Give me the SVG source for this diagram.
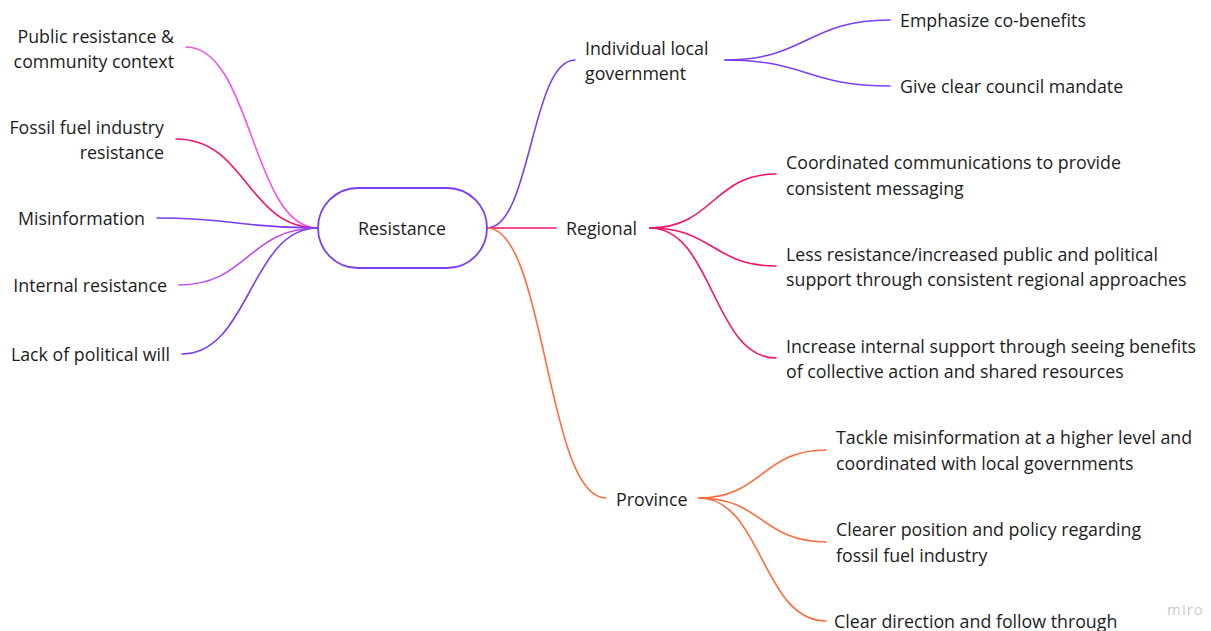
<svg xmlns="http://www.w3.org/2000/svg" width="1211" height="631" viewBox="0 0 1211 631">
  <style>
    text { font-family: "Open Sans", "Noto Sans", sans-serif; font-size: 17.8px; fill: #1c1c1e; }
    .r { text-anchor: end; }
    .c { text-anchor: middle; }
    .edge { fill: none; stroke-width: 1.6; stroke-linecap: round; }
    .purple { stroke: #7b3ef4; }
    .pink { stroke: #f554e8; }
    .crimson { stroke: #f3116d; }
    .violet { stroke: #bd4df6; }
    .orange { stroke: #ff6c3b; }
    .mark { font-size: 15px; fill: #c9c9d4; letter-spacing: 1px; }
  </style>
  <rect width="1211" height="631" fill="#ffffff"/>

  <g id="connectors">
    <!-- left branches into the root -->
    <path class="edge pink" d="M186,47 C252,47 252,228 318,228"/>
    <path class="edge crimson" d="M176,139 C247,139 247,228 318,228"/>
    <path class="edge purple" d="M157,218 C237,218 237,228 318,228"/>
    <path class="edge violet" d="M179,285 C248,285 248,228 318,228"/>
    <path class="edge purple" d="M182,354 C250,354 250,228 318,228"/>
    <!-- root to first level -->
    <path class="edge purple" d="M487,228 C531,228 531,60 575,60"/>
    <path class="edge crimson" d="M487,228 L556,228"/>
    <path class="edge orange" d="M487,228 C546,228 546,498 606,498"/>
    <!-- individual local government -->
    <path class="edge purple" d="M725,60 C807,60 807,20 890,20"/>
    <path class="edge purple" d="M725,60 C807,60 807,86 890,86"/>
    <!-- regional -->
    <path class="edge crimson" d="M650,228 C713,228 713,174 776,174"/>
    <path class="edge crimson" d="M650,228 C713,228 713,266 776,266"/>
    <path class="edge crimson" d="M650,228 C713,228 713,358 776,358"/>
    <!-- province -->
    <path class="edge orange" d="M699,498 C762,498 762,450 826,450"/>
    <path class="edge orange" d="M699,498 C762,498 762,542 826,542"/>
    <path class="edge orange" d="M699,498 C762,498 762,621 826,621"/>
  </g>

  <g id="root">
    <rect x="318" y="188" width="169" height="80" rx="40" ry="40" fill="#ffffff" stroke="#7b3ef4" stroke-width="1.8"/>
    <text class="c" x="402" y="235">Resistance</text>
  </g>

  <g id="public-resistance">
    <text class="r" x="174" y="43">Public resistance &amp;</text>
    <text class="r" x="174" y="68">community context</text>
  </g>
  <g id="fossil-fuel-resistance">
    <text class="r" x="164" y="134">Fossil fuel industry</text>
    <text class="r" x="164" y="159">resistance</text>
  </g>
  <g id="misinformation">
    <text class="r" x="145" y="225">Misinformation</text>
  </g>
  <g id="internal-resistance">
    <text class="r" x="167" y="292">Internal resistance</text>
  </g>
  <g id="lack-of-will">
    <text class="r" x="170" y="361">Lack of political will</text>
  </g>

  <g id="individual-local-government">
    <text x="585" y="55">Individual local</text>
    <text x="585" y="80">government</text>
  </g>
  <g id="co-benefits">
    <text x="900" y="27">Emphasize co-benefits</text>
  </g>
  <g id="council-mandate">
    <text x="900" y="93">Give clear council mandate</text>
  </g>

  <g id="regional">
    <text x="566" y="235">Regional</text>
  </g>
  <g id="coordinated-communications">
    <text x="786" y="169">Coordinated communications to provide</text>
    <text x="786" y="195">consistent messaging</text>
  </g>
  <g id="less-resistance">
    <text x="786" y="261">Less resistance/increased public and political</text>
    <text x="786" y="286">support through consistent regional approaches</text>
  </g>
  <g id="internal-support">
    <text x="786" y="353">Increase internal support through seeing benefits</text>
    <text x="786" y="378">of collective action and shared resources</text>
  </g>

  <g id="province">
    <text x="616" y="506">Province</text>
  </g>
  <g id="tackle-misinformation">
    <text x="836" y="444">Tackle misinformation at a higher level and</text>
    <text x="836" y="470">coordinated with local governments</text>
  </g>
  <g id="clearer-position">
    <text x="836" y="536">Clearer position and policy regarding</text>
    <text x="836" y="562">fossil fuel industry</text>
  </g>
  <g id="clear-direction">
    <text x="834" y="628">Clear direction and follow through</text>
  </g>

  <text class="mark" x="1167" y="615">miro</text>
</svg>
